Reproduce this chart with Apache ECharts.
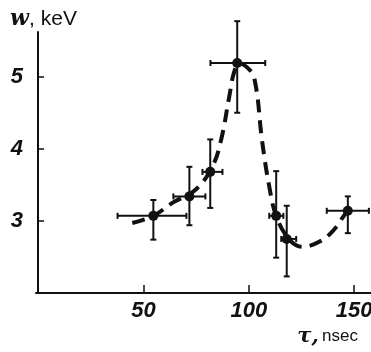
<!DOCTYPE html>
<html>
<head>
<meta charset="utf-8">
<script src="https://cdn.jsdelivr.net/npm/echarts@6/dist/echarts.min.js"></script>
<style>
  html, body { margin: 0; padding: 0; background: #fff; }
  #chart { width: 371px; height: 352px; }
</style>
</head>
<body>
<div id="chart"></div>
<script>
// measured points (tau in nsec, w in keV)
const tau = [54.7, 71.8, 81.7, 94.5, 113, 118, 147];
const w = [3.07, 3.34, 3.68, 5.19, 3.07, 2.75, 3.14];
const tauLow = [37.7, 64.2, 78, 81.8, 109.7, 115.4, 137];
const tauHigh = [70.4, 79.4, 87.5, 107.8, 116.4, 122.5, 157];
const wLow = [2.74, 2.94, 3.18, 4.50, 2.49, 2.23, 2.83];
const wHigh = [3.29, 3.75, 4.13, 5.77, 3.69, 3.21, 3.34];

// dashed guide curve
const curveTau = [44.7, 54.7, 63.7, 75, 82.8, 86.9, 90.7, 93.1, 95.5, 98.8, 102.6, 106.4, 109.7, 113, 119, 125.4, 133.4, 139.6, 147, 150];
const curveW = [2.97, 3.07, 3.25, 3.44, 3.76, 4.13, 4.72, 5.07, 5.18, 5.14, 4.98, 4.09, 3.48, 3.07, 2.75, 2.64, 2.71, 2.85, 3.14, 3.19];

const xTicks = [50, 100, 150];
const yTicks = [3, 4, 5];

const chart = echarts.init(document.getElementById('chart'));

const tickFont = {
  color: '#111',
  fontFamily: 'Liberation Sans Narrow, Liberation Sans, sans-serif',
  fontWeight: 'bold',
  fontStyle: 'italic',
  fontSize: 22
};

const errData = tau.map((t, i) => [t, w[i], tauLow[i], tauHigh[i], wLow[i], wHigh[i]]);

const option = {
  backgroundColor: '#fff',
  animation: false,
  grid: { left: 36, right: 0, top: 32, bottom: 59, outerBoundsMode: 'none', containLabel: false },
  xAxis: {
    type: 'value',
    min: -1,
    max: 158,
    axisLine: { lineStyle: { color: '#111', width: 2 } },
    axisTick: { inside: true, length: 8, customValues: xTicks, lineStyle: { color: '#111', width: 1.5 } },
    axisLabel: { customValues: xTicks, margin: 7, hideOverlap: false, ...tickFont },
    splitLine: { show: false }
  },
  yAxis: {
    type: 'value',
    min: 2,
    max: 5.62,
    axisLine: { show: true, lineStyle: { color: '#111', width: 2 } },
    axisTick: { show: true, inside: true, length: 6, customValues: yTicks, lineStyle: { color: '#111', width: 1.5 } },
    axisLabel: { customValues: yTicks, margin: 13, ...tickFont },
    splitLine: { show: false },
    name: '{w|w}{t|, keV}',
    nameLocation: 'end',
    nameGap: 2,
    nameTextStyle: {
      align: 'left',
      padding: [0, 0, 0, -28],
      rich: {
        w: { fontFamily: 'DejaVu Serif', fontWeight: 'bold', fontStyle: 'italic', fontSize: 22, color: '#111' },
        t: { fontFamily: 'Liberation Sans, sans-serif', fontSize: 21, color: '#111' }
      }
    }
  },
  graphic: [{
    type: 'text',
    right: 13,
    top: 326,
    style: {
      text: '{t|τ,} {n|nsec}',
      rich: {
        t: { fontFamily: 'DejaVu Serif', fontWeight: 'bold', fontStyle: 'italic', fontSize: 21, fill: '#111' },
        n: { fontFamily: 'Liberation Sans, sans-serif', fontSize: 17, fill: '#111' }
      }
    }
  }],
  series: [
    {
      type: 'line',
      data: curveTau.map((t, i) => [t, curveW[i]]),
      smooth: 0.4,
      symbol: 'none',
      lineStyle: { color: '#111', width: 4, type: [13, 8] },
      z: 2
    },
    {
      type: 'custom',
      data: errData,
      renderItem: function (params, api) {
        const c = api.coord([api.value(0), api.value(1)]);
        const xl = api.coord([api.value(2), api.value(1)]);
        const xh = api.coord([api.value(3), api.value(1)]);
        const yl = api.coord([api.value(0), api.value(4)]);
        const yh = api.coord([api.value(0), api.value(5)]);
        const cap = 3;
        const st = { stroke: '#111', lineWidth: 2 };
        const line = (x1, y1, x2, y2) => ({ type: 'line', shape: { x1, y1, x2, y2 }, style: st });
        return {
          type: 'group',
          children: [
            line(xl[0], c[1], xh[0], c[1]),
            line(xl[0], c[1] - cap, xl[0], c[1] + cap),
            line(xh[0], c[1] - cap, xh[0], c[1] + cap),
            line(c[0], yl[1], c[0], yh[1]),
            line(c[0] - cap, yl[1], c[0] + cap, yl[1]),
            line(c[0] - cap, yh[1], c[0] + cap, yh[1]),
            { type: 'circle', shape: { cx: c[0], cy: c[1], r: 5 }, style: { fill: '#111' } }
          ]
        };
      },
      z: 3
    }
  ]
};

chart.setOption(option);
</script>
</body>
</html>
